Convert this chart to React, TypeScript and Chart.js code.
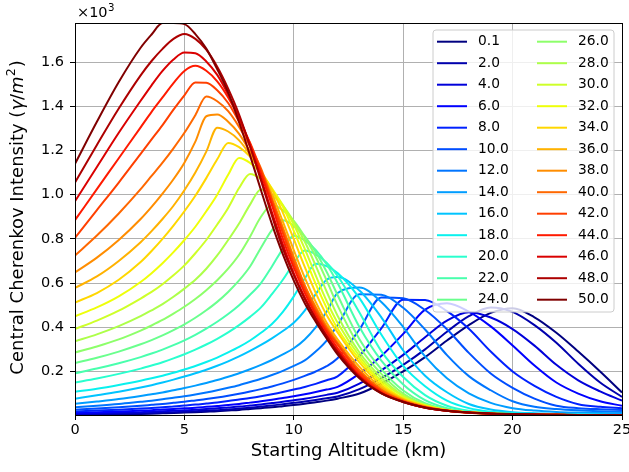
import React, { useEffect, useRef } from 'react';
import { Chart, registerables } from 'chart.js';

Chart.register(...registerables);

// Starting altitude grid (km)
const altitudeKm = [0, 1, 2, 3, 3.5, 4, 4.5, 5, 5.5, 6, 6.5, 7, 7.5, 8, 8.5, 9, 9.5, 10, 10.5, 11, 11.5, 12, 13, 14, 15, 16, 17, 18, 19, 20, 21, 22, 23, 24, 25];

const seriesNames = ['0.1', '2.0', '4.0', '6.0', '8.0', '10.0', '12.0', '14.0', '16.0', '18.0', '20.0', '22.0', '24.0', '26.0', '28.0', '30.0', '32.0', '34.0', '36.0', '38.0', '40.0', '42.0', '44.0', '46.0', '48.0', '50.0'];

// Central Cherenkov intensity, in units of 10^3 photons/m^2
const v0_1 = [0.004, 0.005, 0.0065, 0.008, 0.009, 0.0105, 0.012, 0.014, 0.016, 0.018, 0.02, 0.023, 0.026, 0.03, 0.034, 0.038, 0.043, 0.048, 0.054, 0.061, 0.068, 0.077, 0.1, 0.145, 0.2, 0.265, 0.34, 0.41, 0.465, 0.486, 0.445, 0.375, 0.29, 0.2, 0.105];
const v2 = [0.006, 0.0075, 0.009, 0.011, 0.012, 0.014, 0.016, 0.018, 0.02, 0.022, 0.025, 0.028, 0.032, 0.036, 0.041, 0.046, 0.052, 0.058, 0.064, 0.071, 0.079, 0.087, 0.12, 0.17, 0.23, 0.3, 0.38, 0.45, 0.49, 0.47, 0.41, 0.33, 0.235, 0.15, 0.085];
const v4 = [0.009, 0.011, 0.013, 0.016, 0.018, 0.02, 0.022, 0.024, 0.027, 0.03, 0.033, 0.037, 0.041, 0.046, 0.051, 0.057, 0.063, 0.07, 0.077, 0.085, 0.094, 0.104, 0.145, 0.205, 0.275, 0.355, 0.43, 0.468, 0.444, 0.392, 0.317, 0.23, 0.16, 0.11, 0.068];
const v6 = [0.013, 0.016, 0.019, 0.023, 0.025, 0.028, 0.03, 0.033, 0.036, 0.04, 0.044, 0.048, 0.053, 0.059, 0.065, 0.072, 0.08, 0.088, 0.097, 0.107, 0.118, 0.13, 0.19, 0.27, 0.37, 0.48, 0.509, 0.471, 0.404, 0.318, 0.227, 0.15, 0.1, 0.065, 0.045];
const v8 = [0.019, 0.023, 0.027, 0.032, 0.035, 0.038, 0.042, 0.046, 0.05, 0.055, 0.06, 0.066, 0.073, 0.08, 0.088, 0.097, 0.107, 0.118, 0.13, 0.144, 0.16, 0.178, 0.27, 0.395, 0.525, 0.523, 0.473, 0.393, 0.29, 0.2, 0.135, 0.085, 0.052, 0.04, 0.034];
const v10 = [0.027, 0.032, 0.038, 0.045, 0.049, 0.053, 0.058, 0.063, 0.069, 0.075, 0.082, 0.09, 0.099, 0.109, 0.12, 0.132, 0.146, 0.162, 0.18, 0.2, 0.224, 0.26, 0.39, 0.535, 0.531, 0.478, 0.391, 0.284, 0.191, 0.126, 0.077, 0.045, 0.034, 0.029, 0.026];
const v12 = [0.038, 0.045, 0.053, 0.063, 0.068, 0.074, 0.081, 0.088, 0.096, 0.105, 0.115, 0.126, 0.138, 0.152, 0.167, 0.184, 0.203, 0.225, 0.25, 0.29, 0.34, 0.41, 0.55, 0.547, 0.488, 0.39, 0.274, 0.179, 0.115, 0.065, 0.04, 0.03, 0.024, 0.02, 0.017];
const v14 = [0.054, 0.064, 0.075, 0.089, 0.097, 0.105, 0.115, 0.125, 0.136, 0.148, 0.161, 0.176, 0.192, 0.21, 0.23, 0.252, 0.277, 0.305, 0.345, 0.4, 0.47, 0.555, 0.58, 0.514, 0.401, 0.268, 0.169, 0.101, 0.058, 0.034, 0.023, 0.017, 0.014, 0.012, 0.011];
const v16 = [0.077, 0.092, 0.108, 0.127, 0.138, 0.15, 0.163, 0.177, 0.192, 0.208, 0.226, 0.246, 0.268, 0.293, 0.32, 0.35, 0.383, 0.42, 0.475, 0.55, 0.615, 0.627, 0.566, 0.445, 0.295, 0.181, 0.106, 0.053, 0.028, 0.016, 0.011, 0.008, 0.006, 0.005, 0.004];
const v18 = [0.108, 0.122, 0.139, 0.158, 0.169, 0.181, 0.194, 0.209, 0.225, 0.243, 0.263, 0.286, 0.311, 0.34, 0.375, 0.415, 0.47, 0.54, 0.62, 0.687, 0.677, 0.646, 0.532, 0.367, 0.225, 0.133, 0.068, 0.034, 0.018, 0.012, 0.009, 0.007, 0.005, 0.004, 0.003];
const v20 = [0.15, 0.168, 0.189, 0.213, 0.227, 0.242, 0.259, 0.278, 0.299, 0.322, 0.348, 0.377, 0.41, 0.447, 0.49, 0.55, 0.615, 0.69, 0.747, 0.73, 0.692, 0.633, 0.467, 0.292, 0.175, 0.093, 0.045, 0.022, 0.014, 0.009, 0.006, 0.004, 0.003, 0.003, 0.002];
const v22 = [0.192, 0.213, 0.237, 0.265, 0.281, 0.299, 0.319, 0.341, 0.366, 0.394, 0.425, 0.46, 0.5, 0.547, 0.6, 0.675, 0.755, 0.814, 0.793, 0.75, 0.685, 0.6, 0.401, 0.249, 0.141, 0.07, 0.034, 0.017, 0.011, 0.007, 0.005, 0.004, 0.003, 0.002, 0.002];
const v24 = [0.238, 0.262, 0.29, 0.323, 0.342, 0.363, 0.387, 0.413, 0.443, 0.477, 0.515, 0.56, 0.612, 0.675, 0.76, 0.84, 0.884, 0.859, 0.811, 0.741, 0.651, 0.546, 0.346, 0.211, 0.114, 0.056, 0.029, 0.014, 0.009, 0.006, 0.004, 0.003, 0.003, 0.002, 0.002];
const v26 = [0.286, 0.313, 0.345, 0.385, 0.408, 0.433, 0.462, 0.493, 0.528, 0.568, 0.613, 0.665, 0.728, 0.81, 0.9, 0.953, 0.93, 0.882, 0.81, 0.719, 0.612, 0.499, 0.312, 0.189, 0.1, 0.051, 0.026, 0.015, 0.009, 0.006, 0.004, 0.003, 0.003, 0.002, 0.002];
const v28 = [0.337, 0.368, 0.405, 0.45, 0.477, 0.505, 0.538, 0.575, 0.615, 0.665, 0.725, 0.795, 0.87, 0.955, 1.024, 0.998, 0.951, 0.878, 0.788, 0.679, 0.562, 0.452, 0.286, 0.172, 0.091, 0.048, 0.025, 0.014, 0.009, 0.006, 0.004, 0.003, 0.003, 0.002, 0.002];
const v30 = [0.392, 0.43, 0.475, 0.53, 0.56, 0.595, 0.635, 0.68, 0.735, 0.795, 0.865, 0.94, 1.03, 1.094, 1.071, 1.023, 0.953, 0.865, 0.755, 0.635, 0.519, 0.421, 0.27, 0.159, 0.087, 0.046, 0.024, 0.014, 0.009, 0.006, 0.005, 0.004, 0.003, 0.002, 0.002];
const v32 = [0.45, 0.49, 0.54, 0.605, 0.645, 0.69, 0.74, 0.795, 0.855, 0.925, 1.0, 1.09, 1.166, 1.144, 1.098, 1.029, 0.946, 0.836, 0.717, 0.596, 0.488, 0.394, 0.256, 0.149, 0.079, 0.046, 0.025, 0.015, 0.01, 0.007, 0.005, 0.004, 0.003, 0.002, 0.002];
const v34 = [0.512, 0.555, 0.615, 0.695, 0.745, 0.8, 0.86, 0.925, 0.995, 1.075, 1.16, 1.234, 1.215, 1.172, 1.105, 1.024, 0.919, 0.799, 0.673, 0.556, 0.456, 0.377, 0.241, 0.138, 0.077, 0.044, 0.025, 0.015, 0.01, 0.007, 0.005, 0.004, 0.003, 0.002, 0.002];
const v36 = [0.578, 0.63, 0.7, 0.785, 0.835, 0.89, 0.95, 1.02, 1.1, 1.195, 1.303, 1.286, 1.246, 1.181, 1.1, 1.003, 0.878, 0.749, 0.625, 0.515, 0.421, 0.345, 0.221, 0.128, 0.073, 0.042, 0.024, 0.015, 0.01, 0.007, 0.005, 0.004, 0.003, 0.002, 0.002];
const v38 = [0.648, 0.715, 0.795, 0.89, 0.945, 1.005, 1.07, 1.145, 1.24, 1.355, 1.363, 1.33, 1.275, 1.195, 1.103, 0.981, 0.852, 0.718, 0.59, 0.493, 0.404, 0.331, 0.206, 0.119, 0.069, 0.04, 0.022, 0.014, 0.009, 0.006, 0.005, 0.004, 0.003, 0.002, 0.002];
const v40 = [0.725, 0.815, 0.915, 1.025, 1.085, 1.145, 1.21, 1.28, 1.36, 1.444, 1.423, 1.378, 1.307, 1.219, 1.119, 0.981, 0.843, 0.708, 0.588, 0.484, 0.397, 0.328, 0.202, 0.117, 0.068, 0.039, 0.022, 0.014, 0.009, 0.006, 0.005, 0.004, 0.003, 0.002, 0.002];
const v42 = [0.805, 0.93, 1.055, 1.185, 1.25, 1.315, 1.385, 1.45, 1.508, 1.507, 1.473, 1.415, 1.33, 1.235, 1.109, 0.97, 0.826, 0.689, 0.573, 0.471, 0.389, 0.321, 0.194, 0.111, 0.065, 0.038, 0.023, 0.014, 0.009, 0.006, 0.005, 0.004, 0.003, 0.002, 0.002];
const v44 = [0.885, 1.025, 1.165, 1.305, 1.375, 1.44, 1.505, 1.56, 1.583, 1.561, 1.513, 1.44, 1.345, 1.231, 1.094, 0.952, 0.8, 0.67, 0.556, 0.458, 0.378, 0.306, 0.183, 0.106, 0.063, 0.037, 0.022, 0.013, 0.009, 0.006, 0.005, 0.004, 0.003, 0.002, 0.002];
const v46 = [0.97, 1.125, 1.28, 1.425, 1.495, 1.56, 1.612, 1.643, 1.64, 1.603, 1.542, 1.454, 1.352, 1.221, 1.074, 0.92, 0.774, 0.644, 0.535, 0.443, 0.364, 0.293, 0.176, 0.102, 0.063, 0.036, 0.022, 0.013, 0.009, 0.006, 0.005, 0.004, 0.003, 0.002, 0.002];
const v48 = [1.055, 1.225, 1.39, 1.54, 1.605, 1.66, 1.705, 1.727, 1.705, 1.656, 1.579, 1.48, 1.363, 1.219, 1.064, 0.905, 0.756, 0.636, 0.528, 0.437, 0.359, 0.287, 0.173, 0.102, 0.062, 0.036, 0.022, 0.014, 0.009, 0.007, 0.005, 0.004, 0.003, 0.003, 0.002];
const v50 = [1.14, 1.33, 1.51, 1.665, 1.725, 1.777, 1.777, 1.772, 1.727, 1.661, 1.568, 1.463, 1.328, 1.178, 1.02, 0.867, 0.73, 0.611, 0.509, 0.425, 0.349, 0.277, 0.169, 0.101, 0.062, 0.037, 0.022, 0.014, 0.01, 0.007, 0.005, 0.004, 0.003, 0.003, 0.002];

const seriesValues = [v0_1, v2, v4, v6, v8, v10, v12, v14, v16, v18, v20, v22, v24, v26, v28, v30, v32, v34, v36, v38, v40, v42, v44, v46, v48, v50];

const xTickStep = 5;
const yTickStep = 0.2;
const yMin = 0.003;
const yMax = 1.777;

const FONT = 'DejaVu Sans';

// matplotlib "jet" colormap segments
const JET_R = [[0, 0], [0.35, 0], [0.66, 1], [0.89, 1], [1, 0.5]];
const JET_G = [[0, 0], [0.125, 0], [0.375, 1], [0.64, 1], [0.91, 0], [1, 0]];
const JET_B = [[0, 0.5], [0.11, 1], [0.34, 1], [0.65, 0], [1, 0]];

function seg(p: number[][], t: number): number {
  for (let k = 1; k < p.length; k++) {
    if (t <= p[k][0]) {
      const [x0, y0] = p[k - 1];
      const [x1, y1] = p[k];
      return y0 + ((y1 - y0) * (t - x0)) / (x1 - x0);
    }
  }
  return p[p.length - 1][1];
}

function jetColor(t: number): string {
  const q = Math.min(Math.floor(t * 256), 255) / 255;
  const r = Math.round(seg(JET_R, q) * 255);
  const g = Math.round(seg(JET_G, q) * 255);
  const b = Math.round(seg(JET_B, q) * 255);
  return `rgb(${r},${g},${b})`;
}

const framePlugin = {
  id: 'mplFrame',
  afterDatasetsDraw(chart: any) {
    const { ctx, chartArea: a } = chart;
    ctx.save();
    ctx.strokeStyle = '#000';
    ctx.lineWidth = 1;
    ctx.strokeRect(Math.round(a.left) + 0.5, Math.round(a.top) + 0.5, Math.round(a.right - a.left), Math.round(a.bottom - a.top));
    ctx.restore();
  },
};

const overlayPlugin = {
  id: 'mplOverlay',
  afterDraw(chart: any) {
    const { ctx, chartArea: a } = chart;
    ctx.save();
    ctx.fillStyle = '#000';

    // y-axis title with mathtext-like styling
    const parts: [string, string, number][] = [
      ['Central Cherenkov Intensity (', `18px "${FONT}"`, 0],
      ['\u03b3', `italic 18px "${FONT}"`, 0],
      ['/', `18px "${FONT}"`, 0],
      ['m', `italic 18px "${FONT}"`, 0],
      ['2', `12.6px "${FONT}"`, -7],
      [')', `18px "${FONT}"`, 0],
    ];
    let total = 0;
    const widths = parts.map(([t, f]) => {
      ctx.font = f;
      const w = ctx.measureText(t).width;
      total += w;
      return w;
    });
    ctx.save();
    ctx.translate(18.5, (a.top + a.bottom) / 2 - 1);
    ctx.rotate(-Math.PI / 2);
    ctx.textAlign = 'left';
    ctx.textBaseline = 'middle';
    let cx = -total / 2;
    parts.forEach(([t, f, dy], i) => {
      ctx.font = f;
      ctx.fillText(t, cx, dy);
      cx += widths[i] + (i === 4 ? 1 : 0);
    });
    ctx.restore();

    // offset text x10^3
    ctx.textAlign = 'left';
    ctx.textBaseline = 'alphabetic';
    ctx.font = `14.5px "${FONT}"`;
    const base = '\u00d710';
    ctx.fillText(base, a.left + 2, a.top - 6);
    const w = ctx.measureText(base).width;
    ctx.font = `10.2px "${FONT}"`;
    ctx.fillText('3', a.left + 2 + w + 0.5, a.top - 12);

    // legend
    const boxRight = a.right - 8;
    const boxTop = a.top + 7;
    const boxW = 181;
    const boxH = 282;
    const boxLeft = boxRight - boxW;
    const r = 3;
    ctx.beginPath();
    ctx.moveTo(boxLeft + r, boxTop);
    ctx.lineTo(boxRight - r, boxTop);
    ctx.arcTo(boxRight, boxTop, boxRight, boxTop + r, r);
    ctx.lineTo(boxRight, boxTop + boxH - r);
    ctx.arcTo(boxRight, boxTop + boxH, boxRight - r, boxTop + boxH, r);
    ctx.lineTo(boxLeft + r, boxTop + boxH);
    ctx.arcTo(boxLeft, boxTop + boxH, boxLeft, boxTop + boxH - r, r);
    ctx.lineTo(boxLeft, boxTop + r);
    ctx.arcTo(boxLeft, boxTop, boxLeft + r, boxTop, r);
    ctx.closePath();
    ctx.fillStyle = 'rgba(255,255,255,0.8)';
    ctx.fill();
    ctx.strokeStyle = '#cccccc';
    ctx.lineWidth = 1;
    ctx.stroke();

    const rows = Math.ceil(chart.data.datasets.length / 2);
    ctx.font = `13.8px "${FONT}"`;
    ctx.textBaseline = 'middle';
    chart.data.datasets.forEach((ds: any, i: number) => {
      const col = Math.floor(i / rows);
      const row = i % rows;
      const y = boxTop + 11.7 + 21.5 * row;
      const x0 = boxLeft + 4 + col * 100;
      ctx.strokeStyle = ds.borderColor;
      ctx.lineWidth = 2;
      ctx.beginPath();
      ctx.moveTo(x0, y);
      ctx.lineTo(x0 + 30, y);
      ctx.stroke();
      ctx.fillStyle = '#000';
      ctx.fillText(ds.label, x0 + 41, y);
    });
    ctx.restore();
  },
};

export default function App() {
  const ref = useRef<HTMLCanvasElement>(null);

  useEffect(() => {
    const canvas = ref.current;
    if (!canvas) return;
    const n = seriesValues.length;
    const datasets = seriesValues.map((vals, i) => ({
      label: seriesNames[i],
      data: vals.map((v, k) => ({ x: altitudeKm[k], y: v })),
      borderColor: jetColor(i / (n - 1)),
      backgroundColor: jetColor(i / (n - 1)),
      borderWidth: 2,
      pointRadius: 0,
      pointHoverRadius: 0,
      cubicInterpolationMode: 'monotone' as const,
      fill: false,
      borderJoinStyle: 'round' as const,
      order: n - 1 - i,
    }));

    const chart = new Chart(canvas, {
      type: 'line',
      data: { datasets },
      options: {
        animation: false,
        responsive: false,
        devicePixelRatio: 1,
        events: [],
        layout: { padding: { top: 23, right: 7, left: 0, bottom: 0 } },
        plugins: {
          legend: { display: false },
          tooltip: { enabled: false },
        },
        scales: {
          x: {
            type: 'linear',
            min: 0,
            max: 25,
            afterFit: (scale: any) => {
              scale.height = 57;
              scale.paddingLeft = 0;
              scale.paddingRight = 0;
            },
            ticks: {
              stepSize: xTickStep,
              maxRotation: 0,
              autoSkip: false,
              padding: 1.5,
              color: '#000',
              font: { family: FONT, size: 14.5 },
              callback: (v: any) => String(v),
            },
            grid: {
              color: '#b0b0b0',
              lineWidth: 1,
              tickLength: 5,
              tickColor: '#000',
              tickWidth: 1,
            },
            border: { display: true, color: '#000', width: 1 },
            title: {
              display: true,
              text: 'Starting Altitude (km)',
              color: '#000',
              font: { family: FONT, size: 18 },
              padding: { top: 0, bottom: 9.7 },
            },
          },
          y: {
            type: 'linear',
            min: yMin,
            max: yMax,
            afterFit: (scale: any) => {
              scale.width = 75;
              scale.paddingTop = 0;
              scale.paddingBottom = 0;
            },
            ticks: {
              stepSize: yTickStep,
              includeBounds: false,
              padding: 6,
              color: '#000',
              font: { family: FONT, size: 14.5 },
              callback: (v: any) => Number(v).toFixed(1),
            },
            grid: {
              color: '#b0b0b0',
              lineWidth: 1,
              tickLength: 5,
              tickColor: '#000',
              tickWidth: 1,
            },
            border: { display: true, color: '#000', width: 1 },
            title: { display: false },
          },
        },
      },
      plugins: [framePlugin, overlayPlugin],
    } as any);

    return () => {
      chart.destroy();
    };
  }, []);

  return (
    <div style={{ position: 'fixed', left: 0, top: 0, width: 629, height: 472, background: '#fff' }}>
      <canvas ref={ref} width={629} height={472} style={{ display: 'block', width: 629, height: 472 }} />
    </div>
  );
}
